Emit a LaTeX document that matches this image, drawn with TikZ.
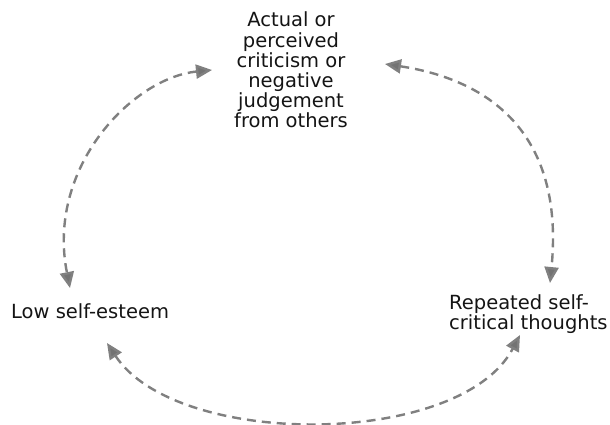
\documentclass[tikz,border=0pt]{standalone}
\usepackage{fontspec}
\setmainfont{DejaVu Sans}
\usetikzlibrary{arrows.meta}
\definecolor{arrgray}{RGB}{128,128,128}
\definecolor{txt}{RGB}{20,20,20}
\begin{document}
\begin{tikzpicture}[x=1pt,y=-1pt,
  lbl/.style={inner sep=0pt, text=txt, font=\fontsize{19.5}{20.2}\selectfont},
  cyc/.style={draw=arrgray, line width=2.4pt, dash pattern=on 9pt off 6pt,
    {Triangle[length=16pt,width=14pt,fill=arrgray!90!black]}-{Triangle[length=16pt,width=14pt,fill=arrgray!90!black]}}]
\useasboundingbox[fill=white] (0,0) rectangle (610,424);
\node[lbl, align=center] (top) at (291,70.2) {Actual or\\perceived\\criticism or\\negative\\judgement\\from others};
\node[lbl, anchor=base west] (low) at (11,318) {Low self-esteem};
\node[lbl, align=left, anchor=north west] (rep) at (449,294.2) {Repeated self-\\critical thoughts};
\coordinate (tl) at (212,70);
\coordinate (tr) at (385,64);
\coordinate (lt) at (70,288);
\coordinate (rt) at (550,283);
\coordinate (lb) at (107,343);
\coordinate (rb) at (520,335);
\draw[cyc] (tl) .. controls (132,78) and (46,168) .. (lt);
\draw[cyc] (tr) .. controls (485,79) and (565,130) .. (rt);
\draw[cyc] (lb) .. controls (177,449) and (460,448) .. (rb);
\end{tikzpicture}
\end{document}
